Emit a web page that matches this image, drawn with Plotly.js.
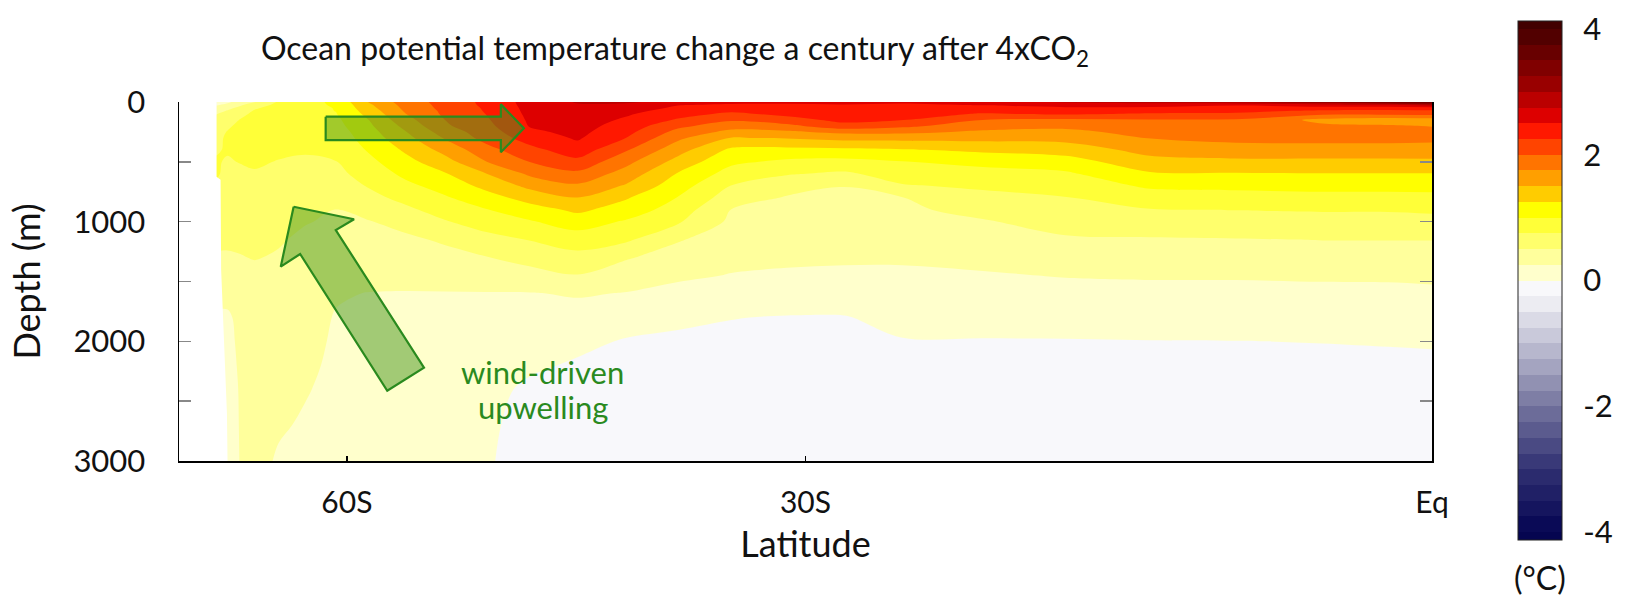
<!DOCTYPE html>
<html><head><meta charset="utf-8">
<script src="https://cdn.plot.ly/plotly-3.0.1.min.js"></script>
<style>html,body{margin:0;padding:0;background:#fff;} #chart{width:1644px;height:598px;}</style>
</head><body><div id="chart"></div>
<script>
// ---- data: latitude columns (deg), depth rows (m), temperature change (°C) per latitude column ----
const LAT = [-76,-74,-72,-70,-67,-64,-61,-58,-55,-52,-49,-46,-43,-40,-37,-34,-31,-28,-25,-21,-17,-13,-9,-5,-2,0];
const DEPTH = [0,25,50,75,100,150,200,250,300,400,500,600,700,800,900,1000,1150,1300,1450,1600,1800,2000,2200,2400,2700,3000];
const DT_BY_LAT = [
 [0.10,0.22,0.33,0.42,0.49,0.58,0.64,0.68,0.70,0.73,0.77,0.78,0.72,0.68,0.63,0.59,0.54,0.48,0.42,0.31,0.22,0.21,0.20,0.20,0.19,0.19],
 [0.20,0.32,0.43,0.52,0.58,0.66,0.72,0.76,0.78,0.77,0.73,0.69,0.66,0.63,0.60,0.57,0.53,0.48,0.41,0.31,0.22,0.21,0.20,0.20,0.19,0.19],
 [0.36,0.47,0.57,0.64,0.69,0.76,0.80,0.82,0.82,0.79,0.76,0.70,0.66,0.63,0.60,0.57,0.54,0.49,0.42,0.36,0.30,0.28,0.27,0.26,0.258,0.255],
 [0.49,0.62,0.72,0.77,0.80,0.83,0.85,0.85,0.85,0.82,0.78,0.73,0.68,0.64,0.61,0.58,0.55,0.51,0.44,0.40,0.37,0.35,0.34,0.33,0.32,0.31],
 [0.78,0.82,0.85,0.87,0.88,0.88,0.87,0.85,0.83,0.79,0.74,0.70,0.66,0.63,0.60,0.57,0.52,0.48,0.43,0.39,0.36,0.33,0.31,0.29,0.27,0.23],
 [0.92,0.93,0.93,0.93,0.92,0.90,0.88,0.85,0.82,0.77,0.72,0.68,0.63,0.58,0.54,0.51,0.46,0.42,0.38,0.33,0.31,0.295,0.28,0.26,0.23,0.20],
 [1.05,1.03,1.01,1.005,0.99,0.95,0.92,0.88,0.85,0.80,0.745,0.69,0.63,0.56,0.495,0.47,0.42,0.37,0.32,0.265,0.24,0.23,0.22,0.21,0.20,0.19],
 [1.52,1.46,1.42,1.37,1.33,1.255,1.21,1.16,1.12,1.03,0.94,0.85,0.77,0.68,0.58,0.49,0.43,0.37,0.31,0.245,0.22,0.20,0.19,0.18,0.17,0.16],
 [1.87,1.84,1.81,1.78,1.745,1.66,1.57,1.49,1.42,1.29,1.17,1.06,0.94,0.82,0.70,0.57,0.46,0.38,0.31,0.24,0.20,0.18,0.16,0.14,0.12,0.10],
 [2.09,2.08,2.07,2.05,2.04,1.998,1.96,1.86,1.77,1.58,1.40,1.23,1.10,0.97,0.85,0.73,0.53,0.43,0.33,0.24,0.20,0.17,0.15,0.13,0.10,0.08],
 [2.31,2.30,2.28,2.27,2.255,2.22,2.18,2.13,2.09,1.91,1.745,1.495,1.32,1.15,0.99,0.86,0.67,0.49,0.36,0.24,0.20,0.16,0.12,0.08,0.05,0.03],
 [2.60,2.59,2.58,2.57,2.56,2.54,2.52,2.45,2.36,2.18,2.01,1.80,1.57,1.35,1.15,0.98,0.76,0.59,0.41,0.24,0.18,0.11,0.04,-0.05,-0.10,-0.12],
 [2.77,2.73,2.70,2.68,2.66,2.63,2.60,2.57,2.53,2.39,2.18,1.94,1.71,1.495,1.30,1.12,0.87,0.67,0.49,0.27,0.16,0.06,-0.03,-0.07,-0.10,-0.12],
 [2.77,2.72,2.65,2.58,2.53,2.46,2.39,2.32,2.245,2.02,1.82,1.64,1.47,1.27,1.14,0.97,0.79,0.52,0.37,0.24,0.11,-0.02,-0.06,-0.08,-0.10,-0.12],
 [2.70,2.51,2.45,2.39,2.34,2.22,2.06,1.92,1.80,1.60,1.41,1.23,1.11,0.99,0.88,0.78,0.52,0.40,0.29,0.18,0.045,-0.04,-0.06,-0.08,-0.10,-0.12],
 [2.57,2.46,2.38,2.29,2.20,2.03,1.86,1.68,1.49,1.20,1.05,0.90,0.745,0.625,0.495,0.45,0.38,0.31,0.24,0.14,0.005,-0.04,-0.06,-0.08,-0.10,-0.12],
 [2.55,2.47,2.42,2.37,2.31,2.16,1.93,1.71,1.52,1.18,0.95,0.77,0.60,0.48,0.45,0.41,0.35,0.29,0.22,0.12,-0.01,-0.04,-0.06,-0.08,-0.10,-0.12],
 [2.55,2.49,2.45,2.41,2.37,2.31,2.17,1.81,1.58,1.20,0.92,0.71,0.505,0.46,0.43,0.39,0.33,0.28,0.21,0.11,-0.01,-0.04,-0.06,-0.08,-0.10,-0.12],
 [2.53,2.47,2.43,2.38,2.34,2.255,2.06,1.81,1.58,1.23,0.99,0.86,0.73,0.495,0.46,0.41,0.35,0.28,0.21,0.15,0.055,-0.01,-0.05,-0.07,-0.10,-0.12],
 [2.60,2.51,2.41,2.32,2.23,1.995,1.85,1.71,1.58,1.30,1.07,0.91,0.79,0.68,0.57,0.48,0.40,0.31,0.23,0.16,0.07,-0.01,-0.05,-0.07,-0.10,-0.12],
 [2.78,2.60,2.46,2.37,2.28,1.95,1.81,1.69,1.59,1.36,1.14,0.96,0.85,0.74,0.66,0.59,0.47,0.36,0.26,0.18,0.085,-0.01,-0.05,-0.07,-0.10,-0.12],
 [2.85,2.62,2.45,2.34,2.22,1.98,1.90,1.83,1.76,1.59,1.41,1.22,1.04,0.88,0.74,0.63,0.48,0.37,0.27,0.19,0.095,-0.005,-0.05,-0.07,-0.10,-0.12],
 [2.95,2.52,2.41,2.32,2.20,1.97,1.92,1.87,1.81,1.66,1.44,1.23,1.06,0.90,0.755,0.65,0.49,0.38,0.27,0.19,0.10,-0.003,-0.05,-0.07,-0.10,-0.12],
 [3.20,2.65,2.40,2.20,2.05,1.68,1.80,1.84,1.82,1.66,1.44,1.24,1.08,0.92,0.77,0.66,0.505,0.39,0.28,0.195,0.10,0.005,-0.05,-0.07,-0.10,-0.12],
 [3.50,2.70,2.38,2.18,2.06,1.60,1.78,1.84,1.82,1.66,1.44,1.24,1.08,0.92,0.77,0.66,0.505,0.39,0.28,0.20,0.105,0.015,-0.05,-0.07,-0.10,-0.12],
 [3.70,2.85,2.40,2.20,2.08,1.62,1.74,1.82,1.80,1.67,1.44,1.24,1.08,0.93,0.79,0.67,0.505,0.40,0.29,0.21,0.12,0.025,-0.05,-0.07,-0.10,-0.12]
];
// coastline / sea floor mask (lat, depth)
const LAND_LAT   = [-90, -75.95, -75.95, -75.2, -75.1, -74.6, -74.1, -74.0, -90];
const LAND_DEPTH = [0, 0, 625, 650, 1400, 2000, 2600, 3000, 3000];

// ticks
const LAT_TICKS = [-60, -30, 0];
const LAT_TICK_TEXT = ['60S', '30S', 'Eq'];
const DEPTH_TICKS = [0, 1000, 2000, 3000];
const DEPTH_TICK_TEXT = ['0', '1000', '2000', '3000'];
const DEPTH_MINOR_STEP = 500;
const CBAR_TICKS = [-4, -2, 0, 2, 4];
const CBAR_TICK_TEXT = ['-4', '-2', '0', '2', '4'];

// contour levels & colour stops (°C)
const LEVEL_START = -4, LEVEL_END = 4, LEVEL_STEP = 0.25;
const COLOR_Z = [-4.125,-3.875,-3.0,-2.0,-1.0,-0.375,-0.125,0.125,0.375,0.625,0.875,1.125,1.375,1.625,1.875,2.125,2.375,2.625,2.875,3.125,3.375,3.625,3.875,4.125];
const COLOR_HEX = ['#050550','#0a0a56','#303072','#74749e','#c0c0d4','#ececf2','#f8f8fb','#ffffcc','#ffff9c','#ffff6c','#ffff38','#ffff00','#ffcc00','#ff9f00','#ff7400','#ff4400','#ff1800','#dd0000','#bb0000','#990000','#800000','#680000','#520000','#420000'];

// annotation overlays (lat, depth)
const ARROW_H_LAT = [-62, -48, -48, -46.45, -48, -48, -62, -62];
const ARROW_H_DEPTH = [123, 123, 19, 220, 420, 318, 318, 123];
const ARROW_D_LAT = [-65.3, -59.35, -61.03, -53.56, -56.49, -64.6, -66.75, -65.3];
const ARROW_D_DEPTH = [875, 980, 1070, 2220, 2413, 1270, 1376, 875];
const LABEL_LAT = -45.2;
const LABEL_DEPTHS = [2256, 2549];
const LABEL_TEXT = ['wind-driven', 'upwelling'];

// ---- build ----
const sinLat = l => Math.sin(l * Math.PI / 180);
const X = LAT.map(sinLat);
const Z = DEPTH.map((d, r) => LAT.map((l, c) => DT_BY_LAT[c][r]));
const zLo = LEVEL_START - LEVEL_STEP / 2, zSpan = (LEVEL_END - LEVEL_START) + LEVEL_STEP;
const colorscale = COLOR_Z.map((z, i) => [Math.min(1, Math.max(0, (z - zLo) / zSpan)), COLOR_HEX[i]]);
colorscale[0][0] = 0; colorscale[colorscale.length - 1][0] = 1;

const FONT = 'Lato, "Liberation Sans", sans-serif';
const GREEN = '#2a8a1e';

const traces = [
 {
  type: 'contour', x: X, y: DEPTH, z: Z,
  autocontour: false,
  contours: {start: LEVEL_START, end: LEVEL_END, size: LEVEL_STEP, coloring: 'fill', showlines: false},
  line: {width: 0, smoothing: 1},
  colorscale: colorscale,
  hoverinfo: 'skip',
  colorbar: {
   x: (1518 - 179) / 1253, xref: 'paper', xanchor: 'left', xpad: 0,
   y: (461 - 280.5) / 359, yanchor: 'middle', ypad: 0,
   len: 519, lenmode: 'pixels', thickness: 44, thicknessmode: 'pixels',
   outlinewidth: 1, outlinecolor: '#222',
   tickmode: 'array', tickvals: CBAR_TICKS, ticktext: CBAR_TICK_TEXT,
   ticks: 'outside', ticklen: 15, tickcolor: 'rgba(0,0,0,0)',
   tickfont: {size: 31, color: '#111', family: FONT}
  }
 },
 {
  type: 'scatter', mode: 'lines', x: LAND_LAT.map(sinLat), y: LAND_DEPTH,
  fill: 'toself', fillcolor: '#ffffff', line: {width: 0, color: '#ffffff'}, hoverinfo: 'skip'
 },
 {
  type: 'scatter', mode: 'lines', x: ARROW_H_LAT.map(sinLat), y: ARROW_H_DEPTH,
  fill: 'toself', fillcolor: 'rgba(70,150,30,0.5)', line: {width: 2.2, color: GREEN}, hoverinfo: 'skip'
 },
 {
  type: 'scatter', mode: 'lines', x: ARROW_D_LAT.map(sinLat), y: ARROW_D_DEPTH,
  fill: 'toself', fillcolor: 'rgba(70,150,30,0.5)', line: {width: 2.2, color: GREEN}, hoverinfo: 'skip'
 }
];

const annotations = LABEL_TEXT.map((t, i) => ({
  xref: 'x', yref: 'y', x: sinLat(LABEL_LAT), y: LABEL_DEPTHS[i], text: t,
  showarrow: false, xanchor: 'center', yanchor: 'middle',
  font: {size: 31, color: GREEN, family: FONT}
}));
annotations.push({
  xref: 'paper', yref: 'paper', x: (1540 - 179) / 1253, y: (461 - 577) / 359,
  text: '(°C)', showarrow: false, xanchor: 'center', yanchor: 'middle',
  font: {size: 32, color: '#111', family: FONT}
});

const layout = {
 width: 1644, height: 598,
 margin: {l: 179, r: 212, t: 102, b: 137},
 paper_bgcolor: '#ffffff', plot_bgcolor: '#ffffff',
 font: {family: FONT, color: '#111'},
 showlegend: false,
 title: {
  text: 'Ocean potential temperature change a century after 4xCO<sub>2</sub>',
  x: 0.4106, xref: 'container', xanchor: 'center',
  y: 0.918, yref: 'container', yanchor: 'middle',
  font: {size: 32, color: '#111', family: FONT}
 },
 xaxis: {
  range: [-1, 0], tickmode: 'array', tickvals: LAT_TICKS.map(sinLat), ticktext: LAT_TICK_TEXT,
  ticks: 'inside', ticklen: 5, tickwidth: 1.5, tickcolor: '#000',
  showline: true, linecolor: '#000', linewidth: 1.5, mirror: false,
  showgrid: false, zeroline: false, tickfont: {size: 30}, ticklabelstandoff: 14,
  title: {text: 'Latitude', font: {size: 36}, standoff: 14}
 },
 xaxis2: {
  overlaying: 'x', side: 'top', anchor: 'y',
  range: [-1, 0], tickmode: 'array', tickvals: LAT_TICKS.map(sinLat),
  ticks: 'inside', ticklen: 5, tickwidth: 1.5, tickcolor: '#000', showticklabels: false,
  showline: true, linecolor: '#999', linewidth: 1.5, showgrid: false, zeroline: false
 },
 yaxis: {
  range: [3000, 0], tickmode: 'array', tickvals: DEPTH_TICKS, ticktext: DEPTH_TICK_TEXT,
  ticks: 'inside', ticklen: 12, tickwidth: 1.5, tickcolor: '#888',
  minor: {ticks: 'inside', ticklen: 12, tickwidth: 1.5, tickcolor: '#888', dtick: DEPTH_MINOR_STEP, tick0: 0, showgrid: false},
  showline: true, linecolor: '#000', linewidth: 1.5, mirror: 'ticks',
  showgrid: false, zeroline: false, tickfont: {size: 31}, ticklabelstandoff: 26,
  title: {text: 'Depth (m)', font: {size: 36}, standoff: 22}
 },
 annotations: annotations
};

Plotly.newPlot('chart', traces, layout, {displayModeBar: false, staticPlot: true});
</script>
</body></html>
